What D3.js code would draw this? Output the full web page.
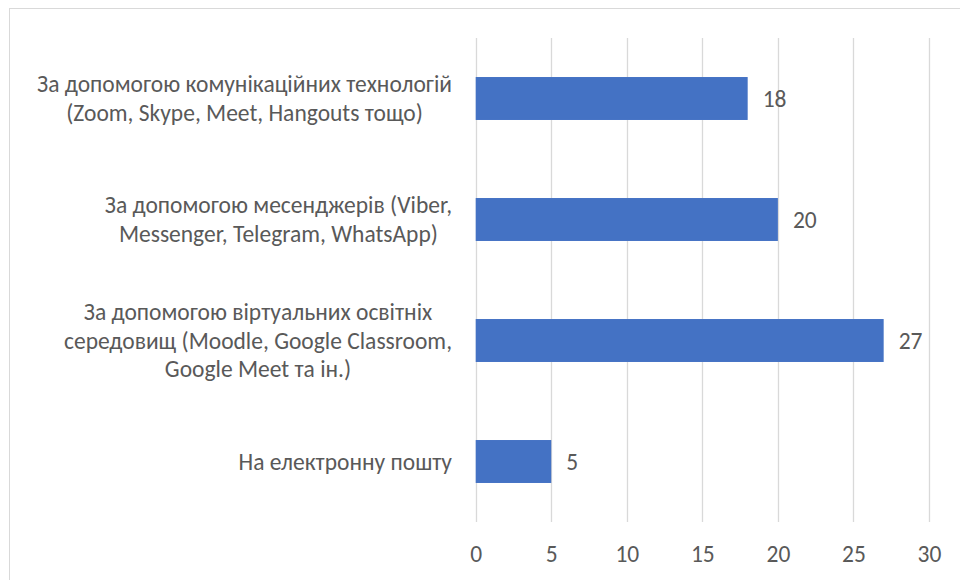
<!DOCTYPE html>
<html><head><meta charset="utf-8">
<script src="https://cdn.jsdelivr.net/npm/d3@7/dist/d3.min.js"></script>
<style>
body{margin:0;background:#fff;}
text{font-family:Carlito,Lato,"Open Sans",sans-serif;fill:#595959;}
</style></head>
<body><svg id="c" width="960" height="580"></svg>
<script>
const categories = [
  ["За допомогою комунікаційних технологій","(Zoom, Skype, Meet, Hangouts тощо)"],
  ["За допомогою месенджерів (Viber,","Messenger, Telegram, WhatsApp)"],
  ["За допомогою віртуальних освітніх","середовищ (Moodle, Google Classroom,","Google Meet та ін.)"],
  ["На електронну пошту"]
];
const values = [18, 20, 27, 5];
const tickValues = [0, 5, 10, 15, 20, 25, 30];

const FS = 23.5;
const svg = d3.select("#c");
svg.append("rect").attr("x",9.5).attr("y",8.5).attr("width",970).attr("height",600)
  .attr("fill","#fff").attr("stroke","#D9D9D9").attr("stroke-width",1);

const x = d3.scaleLinear().domain([0,30]).range([475.7,929]);
const y = d3.scaleBand().domain(d3.range(categories.length)).range([38,522])
  .paddingInner(0.645).paddingOuter(0.3225);

const g = svg.append("g");
g.selectAll("line.grid").data(tickValues).join("line").attr("class","grid")
  .attr("x1",d=>Math.round(x(d))+0.5).attr("x2",d=>Math.round(x(d))+0.5)
  .attr("y1",38).attr("y2",522).attr("stroke","#D9D9D9").attr("stroke-width",1.3);

const xAxis = d3.axisBottom(x).tickValues(tickValues).tickSize(0).tickPadding(0);
const ax = svg.append("g").attr("transform","translate(0,545)").call(xAxis);
ax.select(".domain").remove();
ax.selectAll("text").attr("font-size",FS).attr("dy","0.71em")
  .style("font-family","Carlito,Lato,'Open Sans',sans-serif").attr("fill","#595959");

g.selectAll("rect.bar").data(values).join("rect").attr("class","bar")
  .attr("x",x(0)).attr("y",(d,i)=>y(i)).attr("width",d=>x(d)-x(0))
  .attr("height",y.bandwidth()).attr("fill","#4472C4");

g.selectAll("text.val").data(values).join("text").attr("class","val")
  .attr("x",d=>x(d)+15).attr("y",(d,i)=>y(i)+y.bandwidth()/2)
  .attr("dy","0.35em").attr("font-size",FS).text(d=>d);

const lh = 28.5, rightEdge = 452;
categories.forEach((lines,i)=>{
  const cy = y(i)+y.bandwidth()/2;
  const t = g.append("text").attr("font-size",FS).attr("text-anchor","middle");
  const spans = lines.map((l,k)=>t.append("tspan").attr("y",cy+(k-(lines.length-1)/2)*lh).attr("dy","0.35em").text(l));
  let maxW = 0;
  spans.forEach(s=>{maxW=Math.max(maxW,s.node().getComputedTextLength());});
  spans.forEach(s=>s.attr("x",rightEdge-maxW/2));
});
</script></body></html>
